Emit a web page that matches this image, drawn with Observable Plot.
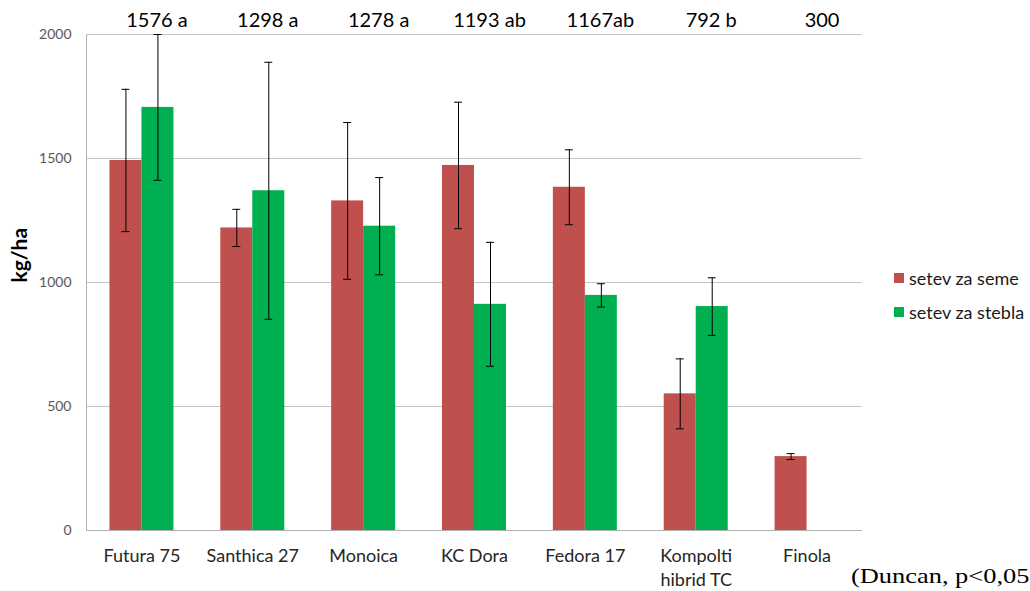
<!DOCTYPE html>
<html>
<head>
<meta charset="utf-8">
<script src="https://cdn.jsdelivr.net/npm/d3@7"></script>
<script src="https://cdn.jsdelivr.net/npm/@observablehq/plot@0.6"></script>
<style>
  html, body { margin: 0; padding: 0; background: #fff; overflow: hidden; }
  #wrap { position: relative; width: 1030px; height: 591px; overflow: hidden; }
  .leg { position: absolute; left: 894px; font: 18px Lato, sans-serif; color: #1a1a1a; white-space: nowrap; display: flex; align-items: center; }
  .sw { width: 10px; height: 10px; margin-right: 5px; }
  #caption { position: absolute; left: 851px; top: 565px; font: 22px "Liberation Serif", serif; line-height: 1; color: #000; white-space: nowrap; transform: scaleX(1.2); transform-origin: left top; }
</style>
</head>
<body>
<div id="wrap"></div>
<script>
const categories = ["Futura 75", "Santhica 27", "Monoica", "KC Dora", "Fedora 17", "Kompolti\nhibrid TC", "Finola"];
const topLabels = ["1576 a", "1298 a", "1278 a", "1193 ab", "1167ab", "792 b", "300"];
const seriesNames = ["setev za seme", "setev za stebla"];
const seme = [1492, 1220, 1329, 1472, 1384, 551, 298];
const semeErr = [287, 75, 316, 255, 151, 141, 12];
const stebla = [1706, 1370, 1227, 912, 948, 903, null];
const steblaErr = [294, 518, 196, 250, 47, 116, null];
const yTicks = [0, 500, 1000, 1500, 2000];
const colors = ["#C0504D", "#00B050"];

const rows = (vals, errs) => categories.map((c, i) => ({cat: c, v: vals[i], e: errs[i]})).filter(d => d.v != null);
const semeRows = rows(seme, semeErr);
const steblaRows = rows(stebla, steblaErr);
const labelRows = categories.map((c, i) => ({cat: c, label: topLabels[i]}));

const W = 1030, H = 591;
const band = (862 - 86) / categories.length;
const barW = 32;
const inset = (band - barW) / 2;
const capInset = (band - 8) / 2;
const font = "Lato, sans-serif";

function series(rs, color, dx) {
  return [
    Plot.barY(rs, {x: "cat", y: "v", fill: color, dx, insetLeft: inset, insetRight: inset}),
    Plot.ruleX(rs, {x: "cat", y1: d => d.v - d.e, y2: d => d.v + d.e, dx, stroke: "#000", strokeWidth: 1}),
    Plot.tickY(rs, {x: "cat", y: d => d.v - d.e, dx, stroke: "#000", insetLeft: capInset, insetRight: capInset}),
    Plot.tickY(rs, {x: "cat", y: d => d.v + d.e, dx, stroke: "#000", insetLeft: capInset, insetRight: capInset})
  ];
}

const chart = Plot.plot({
  width: W,
  height: H,
  marginLeft: 86,
  marginRight: 168,
  marginTop: 34,
  marginBottom: 61,
  style: {fontFamily: font, background: "#fff"},
  x: {domain: categories, padding: 0, round: false},
  y: {domain: [0, 2000]},
  marks: [
    Plot.ruleY(yTicks.filter(t => t > 0), {stroke: "#c4c4c4", strokeWidth: 1}),
    Plot.ruleY([0], {stroke: "#b0b0b0", strokeWidth: 1}),
    Plot.frame({anchor: "left", stroke: "#b0b0b0"}),
    ...series(semeRows, colors[0], -barW / 2),
    ...series(steblaRows, colors[1], barW / 2),
    Plot.axisY({ticks: yTicks, tickFormat: d3.format("d"), tickSize: 0, tickPadding: 15, fontSize: 14, fill: "#595959", label: null}),
    Plot.axisX({tickSize: 0, tickPadding: 14, fontSize: 18, fill: "#262626", label: null, lineHeight: 1.35}),
    Plot.text(labelRows, {x: "cat", text: "label", frameAnchor: "top", dy: -14, dx: 15, fontSize: 20, fill: "#000", lineAnchor: "middle"}),
    Plot.text(["kg/ha"], {frameAnchor: "left", dx: -66, rotate: -90, fontSize: 21, fontWeight: "bold", fill: "#000"})
  ]
});

const wrap = document.getElementById("wrap");
wrap.appendChild(chart);

seriesNames.forEach((name, i) => {
  const d = document.createElement("div");
  d.className = "leg";
  d.style.top = (i === 0 ? 267 : 301) + "px";
  d.innerHTML = `<span class="sw" style="background:${colors[i]}"></span><span>${name}</span>`;
  wrap.appendChild(d);
});

const cap = document.createElement("div");
cap.id = "caption";
cap.textContent = "(Duncan, p<0,05)";
wrap.appendChild(cap);
</script>
</body>
</html>
